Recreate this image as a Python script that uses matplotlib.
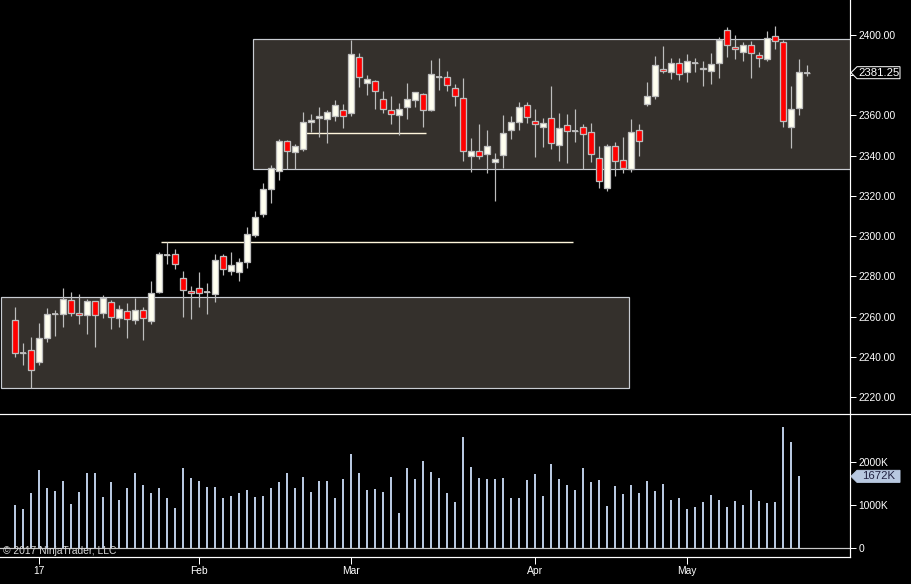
import numpy as np
import matplotlib
matplotlib.use("Agg")
import matplotlib.pyplot as plt
import matplotlib.patches as mpatches
import matplotlib.transforms as mtransforms
from matplotlib.lines import Line2D

plt.rcParams["font.family"] = ["Liberation Sans", "DejaVu Sans"]

# daily ES bars, Dec 28 2016 .. May 22 2017 (index = trading day)
OPEN = [2258.1, 2241.9, 2243.2, 2237.5, 2249.5, 2261.3, 2261.1, 2268.0, 2261.6, 2260.6,
        2267.5, 2261.6, 2267.0, 2259.1, 2262.6, 2258.1, 2263.1, 2257.6, 2272.4, 2290.8,
        2290.9, 2279.0, 2272.5, 2274.0, 2272.4, 2271.0, 2289.9, 2282.8, 2282.3, 2287.3,
        2300.7, 2310.8, 2323.2, 2332.2, 2347.1, 2341.7, 2343.1, 2356.6, 2358.6, 2358.1,
        2359.6, 2362.5, 2361.1, 2388.9, 2376.3, 2377.0, 2368.0, 2362.5, 2360.1, 2364.0,
        2367.5, 2370.5, 2362.9, 2378.9, 2378.9, 2373.5, 2368.5, 2340.0, 2342.2, 2340.7,
        2336.7, 2340.2, 2352.6, 2356.6, 2365.0, 2357.1, 2354.1, 2358.6, 2345.1, 2355.1,
        2352.1, 2354.1, 2351.6, 2338.7, 2323.8, 2344.6, 2337.7, 2333.2, 2352.6, 2365.5,
        2369.5, 2382.9, 2381.4, 2385.9, 2381.4, 2385.9, 2383.8, 2381.9, 2385.9, 2402.3,
        2394.2, 2391.4, 2394.9, 2389.9, 2388.2, 2399.3, 2396.3, 2354.4, 2363.5, 2381.25]
HIGH = [2264.6, 2246.7, 2249.7, 2256.6, 2264.1, 2263.2, 2274.0, 2272.2, 2271.0, 2268.5,
        2267.6, 2270.5, 2268.2, 2265.5, 2266.5, 2269.4, 2264.6, 2277.7, 2291.9, 2296.9,
        2293.4, 2282.6, 2275.2, 2282.1, 2276.7, 2291.1, 2290.9, 2291.9, 2288.9, 2304.5,
        2312.5, 2326.2, 2335.4, 2348.3, 2347.8, 2345.8, 2361.7, 2360.7, 2364.0, 2362.7,
        2367.5, 2365.7, 2397.5, 2390.9, 2380.1, 2377.6, 2372.2, 2369.7, 2366.0, 2376.1,
        2371.5, 2371.2, 2387.6, 2388.6, 2382.1, 2375.5, 2378.4, 2348.6, 2355.8, 2352.8,
        2341.2, 2360.1, 2359.7, 2366.7, 2366.7, 2363.2, 2358.6, 2374.6, 2361.1, 2360.6,
        2363.0, 2355.6, 2356.1, 2344.8, 2345.6, 2346.6, 2349.1, 2358.1, 2355.6, 2376.5,
        2389.6, 2394.5, 2388.6, 2388.4, 2390.6, 2388.4, 2386.9, 2390.9, 2399.2, 2403.8,
        2400.0, 2396.7, 2397.0, 2391.7, 2402.0, 2404.6, 2397.5, 2374.6, 2387.9, 2385.1]
LOW = [2240.0, 2235.9, 2224.3, 2236.0, 2247.5, 2250.3, 2255.0, 2260.3, 2256.4, 2251.5,
       2245.0, 2259.4, 2254.0, 2255.0, 2249.5, 2256.4, 2248.5, 2256.4, 2271.5, 2286.3,
       2283.8, 2259.9, 2258.9, 2264.9, 2261.4, 2267.4, 2280.7, 2280.7, 2277.8, 2284.3,
       2299.7, 2309.7, 2316.6, 2327.9, 2333.2, 2333.2, 2342.5, 2352.0, 2349.5, 2346.1,
       2357.4, 2353.9, 2359.7, 2374.3, 2370.3, 2363.2, 2361.1, 2355.9, 2350.5, 2358.4,
       2364.4, 2354.4, 2362.4, 2372.7, 2372.3, 2364.9, 2337.5, 2332.0, 2338.2, 2331.5,
       2317.6, 2333.7, 2348.5, 2352.8, 2356.1, 2339.5, 2344.5, 2343.5, 2337.5, 2336.5,
       2347.0, 2333.2, 2337.0, 2323.8, 2322.6, 2330.0, 2331.2, 2332.0, 2340.0, 2364.7,
       2368.0, 2380.9, 2378.3, 2377.6, 2376.8, 2381.4, 2374.8, 2375.5, 2378.8, 2389.2,
       2388.1, 2386.9, 2378.8, 2383.9, 2387.1, 2393.0, 2354.4, 2344.0, 2360.4, 2379.8]
CLOSE = [2242.0, 2241.9, 2233.2, 2249.2, 2261.1, 2261.3, 2268.5, 2261.9, 2260.6, 2267.5,
         2260.6, 2269.4, 2259.6, 2263.6, 2258.6, 2263.1, 2259.1, 2271.5, 2290.9, 2290.8,
         2286.0, 2273.0, 2271.5, 2271.5, 2272.4, 2288.0, 2283.5, 2285.5, 2287.0, 2300.9,
         2309.3, 2323.2, 2333.7, 2347.1, 2342.2, 2344.6, 2356.6, 2357.7, 2359.6, 2361.5,
         2365.0, 2359.6, 2390.4, 2378.9, 2378.0, 2372.0, 2363.0, 2360.6, 2363.0, 2368.0,
         2371.5, 2362.5, 2380.4, 2378.9, 2375.0, 2369.8, 2342.2, 2342.2, 2339.7, 2344.6,
         2338.2, 2351.1, 2356.6, 2364.0, 2359.1, 2355.6, 2356.1, 2346.1, 2353.6, 2352.1,
         2352.1, 2350.6, 2340.7, 2327.2, 2344.6, 2337.2, 2333.7, 2351.6, 2347.1, 2369.5,
         2384.9, 2382.1, 2385.9, 2380.4, 2386.9, 2385.9, 2382.9, 2385.4, 2397.5, 2395.0,
         2392.9, 2394.9, 2390.9, 2388.6, 2398.3, 2396.9, 2357.2, 2363.0, 2381.4, 2381.25]

# volume in thousands (last bar has none yet)
VOLUME_K = [1003, 910, 1283, 1820, 1400, 1330, 1563, 1027, 1307, 1750,
            1750, 1190, 1540, 1120, 1400, 1750, 1470, 1283, 1400, 1167,
            933, 1867, 1634, 1563, 1423, 1423, 1167, 1213, 1283, 1353,
            1190, 1213, 1400, 1540, 1750, 1400, 1657, 1307, 1563, 1563,
            1167, 1610, 2194, 1750, 1353, 1377, 1307, 1657, 816, 1867,
            1610, 2030, 1773, 1634, 1283, 1073, 2590, 1890, 1634, 1610,
            1610, 1634, 1167, 1167, 1587, 1727, 1213, 1960, 1610, 1470,
            1353, 1867, 1540, 1587, 980, 1447, 1260, 1470, 1283, 1563,
            1330, 1493, 1120, 1167, 910, 957, 1073, 1237, 1120, 957,
            1097, 1003, 1353, 1097, 1050, 1073, 2824, 2474, 1672]

MONTH_POS = [3, 23, 42, 65, 84]
MONTH_LABELS = ["17", "Feb", "Mar", "Apr", "May"]

# supply/demand zones: start idx, end idx, low, high
ZONE_START = [-1.8, 29.8]
ZONE_END = [76.7, 106.0]
ZONE_LOW = [2224.3, 2333.2]
ZONE_HIGH = [2269.6, 2397.9]

# horizontal lines: level, start idx, end idx
LEVELS = [2296.9, 2351.1]
LEVEL_START = [18.3, 36.4]
LEVEL_END = [69.7, 51.4]

PRICE_TICKS = np.arange(2220, 2401, 20)
VOL_TICKS = [0, 1000, 2000]
VOL_TICK_LABELS = ["0", "1000K", "2000K"]

BG = "black"
FG = "white"
W, H = 911, 584
PX = 0.72  # one pixel in points at dpi 100
FS = 7.4

fig = plt.figure(figsize=(W / 100, H / 100), dpi=100, facecolor=BG)
ax = fig.add_axes([0, 1 - 414 / H, 850 / W, 414 / H], facecolor=BG)
axv = fig.add_axes([0, 1 - 557 / H, 850 / W, (557 - 414) / H], facecolor=BG, sharex=ax)

x = np.arange(len(OPEN))
o = np.array(OPEN); c = np.array(CLOSE)
hi = np.array(HIGH); lo = np.array(LOW)

# zones
for xs, xe, zl, zh in zip(ZONE_START, ZONE_END, ZONE_LOW, ZONE_HIGH):
    ax.add_patch(mpatches.Rectangle((xs, zl), xe - xs, zh - zl, facecolor="#34302c",
                                    edgecolor="#c8ccd2", lw=1.2 * PX, zorder=1))

for lv, xs, xe in zip(LEVELS, LEVEL_START, LEVEL_END):
    ax.hlines(lv, xs, xe, color="#fff6dc", lw=1.4 * PX, zorder=2)

# candles
ax.vlines(x, lo, hi, color="#bdbdbd", lw=1.2 * PX, zorder=3)
colors = np.where(c > o, "#fffff0", "#ff0000")
body_w = 0.68
ax.bar(x, np.abs(c - o), bottom=np.minimum(o, c), width=body_w, color=colors,
       edgecolor="#bdbdbd", linewidth=1.3 * PX, zorder=4)
doji = np.isclose(o, c)
ax.hlines(o[doji], x[doji] - body_w / 2 - 0.05, x[doji] + body_w / 2 + 0.05,
          color="#bdbdbd", lw=1.8 * PX, zorder=4)

ax.set_xlim(-1.875, 104.375)
ax.set_ylim(2211.54, 2417.4)
ax.set_yticks(PRICE_TICKS)
# the last-price marker covers the label next to it
ax.set_yticklabels(["" if abs(p - CLOSE[-1]) < 5 else f"{p:.2f}" for p in PRICE_TICKS])
ax.yaxis.tick_right()
ax.tick_params(axis="y", colors=FG, labelcolor=FG, length=4, width=PX, pad=2, labelsize=FS)
ax.tick_params(axis="x", bottom=False, labelbottom=False)
for s in ["top", "left", "bottom"]:
    ax.spines[s].set_visible(False)
ax.spines["right"].set_color(FG)
ax.spines["right"].set_linewidth(1.2 * PX)

# volume
xv = np.arange(len(VOLUME_K))
axv.bar(xv, VOLUME_K, width=0.22, color="#b8c8e0", zorder=3)
axv.set_ylim(-210, 3127)
axv.set_yticks(VOL_TICKS)
axv.set_yticklabels(VOL_TICK_LABELS)
axv.yaxis.tick_right()
axv.tick_params(axis="y", colors=FG, labelcolor=FG, length=4, width=PX, pad=2, labelsize=FS)
axv.axhline(0, color="#c8c8c8", lw=1.2 * PX, zorder=2)
axv.set_xticks(MONTH_POS)
axv.set_xticklabels(MONTH_LABELS)
axv.tick_params(axis="x", colors=FG, labelcolor=FG, length=5, width=PX, pad=1.5, labelsize=FS)
for s in ["top", "left"]:
    axv.spines[s].set_visible(False)
for s in ["right", "bottom"]:
    axv.spines[s].set_color(FG)
    axv.spines[s].set_linewidth(1.2 * PX)

# panel separator across full width
fig.add_artist(Line2D([0, 1], [1 - 414 / H, 1 - 414 / H], transform=fig.transFigure,
                      color=FG, lw=1.2 * PX))

fig.text(3 / W, 1 - 551 / H, "\u00a9 2017 NinjaTrader, LLC", color="#d8d8d8",
         fontsize=FS, ha="left", va="center")


def axis_marker(axis, value, text, face, txtcolor, edge):
    yc = axis.transData.transform((0, value))[1]
    h = 12
    pts = [(851, yc), (857, yc + h / 2), (900, yc + h / 2), (900, yc - h / 2), (857, yc - h / 2)]
    fig.add_artist(mpatches.Polygon(pts, closed=True, facecolor=face, edgecolor=edge,
                                    lw=PX, transform=mtransforms.IdentityTransform()))
    fig.text(879 / W, yc / H, text, color=txtcolor, fontsize=FS + 0.8, ha="center", va="center")


axis_marker(ax, CLOSE[-1], f"{CLOSE[-1]:.2f}", "black", FG, FG)
axis_marker(axv, VOLUME_K[-1], f"{VOLUME_K[-1]}K", "#b8c8e0", "#202040", "#b8c8e0")

fig.savefig("out.png", dpi=100, facecolor=BG)
